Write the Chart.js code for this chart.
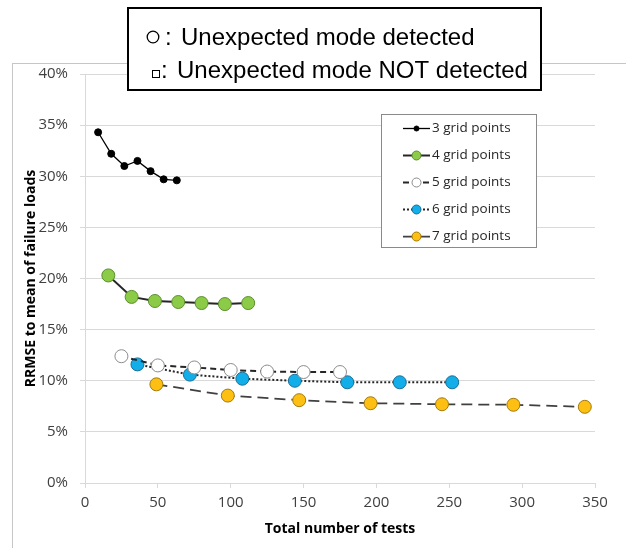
<!DOCTYPE html>
<html>
<head>
<meta charset="utf-8">
<script src="https://cdn.jsdelivr.net/npm/chart.js@4.4.0/dist/chart.umd.min.js"></script>
<style>
    html, body { margin: 0; padding: 0; background: #fff; }
    #wrap { width: 626px; height: 548px; position: relative; }
</style>
</head>
<body>
<div id="wrap"><canvas id="rrmse-chart"></canvas></div>
<script>
// values (x = total number of tests, y = RRMSE in %)
const seriesNames = ["3 grid points", "4 grid points", "5 grid points", "6 grid points", "7 grid points"];

const tests3 = [9, 18, 27, 36, 45, 54, 63];
const rrmse3 = [34.3, 32.2, 31.0, 31.5, 30.5, 29.7, 29.6];

const tests4 = [16, 32, 48, 64, 80, 96, 112];
const rrmse4 = [20.3, 18.2, 17.8, 17.7, 17.6, 17.5, 17.6];

const tests5 = [25, 50, 75, 100, 125, 150, 175];
const rrmse5 = [12.4, 11.5, 11.3, 11.05, 10.9, 10.85, 10.85];

const tests6 = [36, 72, 108, 144, 180, 216, 252];
const rrmse6 = [11.6, 10.6, 10.2, 10.0, 9.85, 9.85, 9.85];

const tests7 = [49, 98, 147, 196, 245, 294, 343];
const rrmse7 = [9.65, 8.55, 8.1, 7.8, 7.7, 7.65, 7.45];

const noteLines = ["Unexpected mode detected", "Unexpected mode NOT detected"];

function pairs(xs, ys) {
    return xs.map(function (x, i) { return { x: x, y: ys[i] }; });
}

const lineColor = "#262626";

const datasets = [
    {
        label: seriesNames[0], data: pairs(tests3, rrmse3),
        borderColor: "#000", borderWidth: 1.3, borderDash: [],
        pointRadius: 3.5, pointBackgroundColor: "#000", pointBorderColor: "#000", pointBorderWidth: 1
    },
    {
        label: seriesNames[1], data: pairs(tests4, rrmse4),
        borderColor: lineColor, borderWidth: 2, borderDash: [],
        pointRadius: 6.5, pointBackgroundColor: "#8CCB48", pointBorderColor: "#5B8F2C", pointBorderWidth: 1
    },
    {
        label: seriesNames[2], data: pairs(tests5, rrmse5),
        borderColor: lineColor, borderWidth: 2, borderDash: [6, 4],
        pointRadius: 6.5, pointBackgroundColor: "#fff", pointBorderColor: "#8c8c8c", pointBorderWidth: 1
    },
    {
        label: seriesNames[3], data: pairs(tests6, rrmse6),
        borderColor: lineColor, borderWidth: 2, borderDash: [2, 2],
        pointRadius: 6.5, pointBackgroundColor: "#11AEEA", pointBorderColor: "#1E6F96", pointBorderWidth: 1
    },
    {
        label: seriesNames[4], data: pairs(tests7, rrmse7),
        borderColor: "#404040", borderWidth: 1.75, borderDash: [11, 6],
        pointRadius: 6.5, pointBackgroundColor: "#FDBF12", pointBorderColor: "#A27A10", pointBorderWidth: 1
    }
];

// frame, inner legend and the note box on top
const decorations = {
    id: "decorations",
    beforeDraw: function (chart) {
        const ctx = chart.ctx;
        ctx.save();
        ctx.fillStyle = "#fff";
        ctx.fillRect(0, 0, chart.width, chart.height);
        ctx.strokeStyle = "#c6c6c6";
        ctx.lineWidth = 1;
        ctx.strokeRect(12.5, 63.5, 700, 600);
        ctx.restore();
    },
    afterDraw: function (chart) {
        const ctx = chart.ctx;
        ctx.save();

        // legend inside plot
        ctx.fillStyle = "#fff";
        ctx.fillRect(381, 114, 155, 133);
        ctx.strokeStyle = "#8a8a8a";
        ctx.lineWidth = 1;
        ctx.strokeRect(381.5, 114.5, 155, 133);
        ctx.font = "13.5px 'Open Sans'";
        ctx.textBaseline = "middle";
        chart.data.datasets.forEach(function (ds, i) {
            const y = Math.round(127.5 + i * 27.2) + 0.5;
            ctx.strokeStyle = ds.borderColor;
            ctx.lineWidth = ds.borderWidth;
            ctx.setLineDash(ds.borderDash);
            ctx.beginPath();
            ctx.moveTo(403, y);
            ctx.lineTo(430, y);
            ctx.stroke();
            ctx.setLineDash([]);
            ctx.beginPath();
            ctx.arc(416.5, y, ds.pointRadius > 4 ? 4.5 : 2.5, 0, Math.PI * 2);
            ctx.fillStyle = ds.pointBackgroundColor;
            ctx.fill();
            ctx.lineWidth = 1;
            ctx.strokeStyle = ds.pointBorderColor;
            ctx.stroke();
            ctx.fillStyle = "#262626";
            ctx.fillText(ds.label, 432, y);
        });

        // note box
        ctx.fillStyle = "#fff";
        ctx.fillRect(128, 8, 413, 82);
        ctx.strokeStyle = "#000";
        ctx.lineWidth = 2;
        ctx.strokeRect(128, 8, 413, 82);

        ctx.fillStyle = "#000";
        ctx.textBaseline = "alphabetic";
        ctx.lineWidth = 1.3;
        ctx.beginPath();
        ctx.arc(153, 37, 5.8, 0, Math.PI * 2);
        ctx.stroke();
        ctx.lineWidth = 1;
        ctx.strokeRect(152.5, 70.5, 7, 7);

        ctx.font = "24px 'Liberation Sans'";
        ctx.fillText(":", 165, 45);
        ctx.fillText(noteLines[0], 181, 45);
        ctx.fillText(":", 161, 78);
        ctx.fillText(noteLines[1], 177, 78);
        ctx.restore();
    }
};

const gridGrey = "#d9d9d9";
const tickFont = { family: "'Open Sans'", size: 15 };
const titleFont = { family: "'Open Sans'", size: 14, weight: "bold" };

new Chart(document.getElementById("rrmse-chart"), {
    type: "line",
    data: { datasets: datasets },
    plugins: [decorations],
    options: {
        responsive: true,
        maintainAspectRatio: false,
        animation: false,
        layout: { padding: { left: 19, right: 31, top: 74, bottom: 7 } },
        plugins: {
            legend: { display: false },
            tooltip: { enabled: false }
        },
        elements: { line: { tension: 0, fill: false } },
        scales: {
            x: {
                type: "linear",
                min: 0,
                max: 350,
                ticks: { stepSize: 50, color: "#404040", font: tickFont, padding: 6, maxRotation: 0 },
                grid: { drawOnChartArea: false, drawTicks: true, tickLength: 5, color: gridGrey },
                border: { color: gridGrey },
                title: { display: true, text: "Total number of tests", color: "#000", font: titleFont },
                afterFit: function (scale) { scale.height = 58; }
            },
            y: {
                min: 0,
                max: 40,
                ticks: {
                    stepSize: 5, color: "#404040", font: tickFont, padding: 12,
                    callback: function (v) { return v + "%"; }
                },
                grid: { color: gridGrey, tickLength: 5 },
                border: { color: gridGrey },
                title: { display: true, text: "RRMSE to mean of failure loads", color: "#000", font: titleFont },
                afterFit: function (scale) { scale.width = 66; }
            }
        }
    }
});
</script>
</body>
</html>
